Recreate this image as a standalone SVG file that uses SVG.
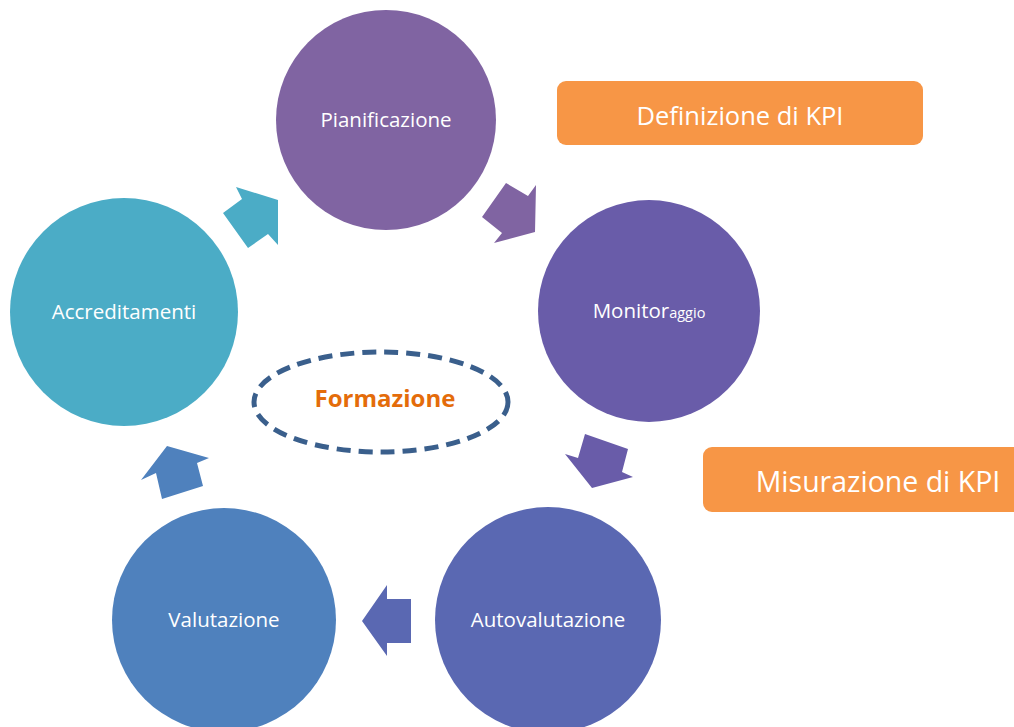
<svg xmlns="http://www.w3.org/2000/svg" width="1014" height="727" viewBox="0 0 1014 727">
<style>
.lbl{font-family:"Open Sans","Liberation Sans",sans-serif;font-size:20.5px;fill:#fff;text-anchor:middle}
.box{fill:#F79646}
.boxt{font-family:"Open Sans","Liberation Sans",sans-serif;font-size:25.5px;fill:#fff;text-anchor:middle}
.big{font-size:28.5px}
.small{font-size:14.5px}
</style>
<rect width="1014" height="727" fill="#fff"/>
<g id="node-pianificazione"><circle cx="386" cy="120" r="110" fill="#8064A2"/><text class="lbl" x="386" y="127">Pianificazione</text></g>
<g id="node-monitoraggio"><circle cx="649" cy="311" r="111" fill="#695CA9"/><text class="lbl" x="649" y="318">Monitor<tspan class="small">aggio</tspan></text></g>
<g id="node-autovalutazione"><circle cx="548" cy="620" r="113" fill="#5A68B2"/><text class="lbl" x="548" y="627">Autovalutazione</text></g>
<g id="node-valutazione"><circle cx="224" cy="620" r="112" fill="#4F81BD"/><text class="lbl" x="224" y="627">Valutazione</text></g>
<g id="node-accreditamenti"><circle cx="124" cy="312" r="114" fill="#4BACC6"/><text class="lbl" x="124" y="319">Accreditamenti</text></g>
<g id="connectors">
<polygon points="506,183 528,196 536,185 535,232 494,243 502,233 482,217" fill="#8064A2"/>
<polygon points="585,434 628,449 622,472 633,477 592,488 565,454 578,458" fill="#695CA9"/>
<polygon points="387,585 387,599 411,599 411,643 387,643 387,656 362,621" fill="#5A68B2"/>
<polygon points="167,446 209,458 197,463 203,486 162,499 156,473 141,480" fill="#4F81BD"/>
<polygon points="236,187 278,200 278,245 268,234 248,248 223,213 242,199" fill="#4BACC6"/>
</g>
<g id="node-definizione"><rect class="box" x="557" y="81" width="366" height="64" rx="9"/><text class="boxt" x="740" y="125">Definizione di KPI</text></g>
<g id="node-misurazione"><rect class="box" x="703" y="447" width="330" height="65" rx="9"/><text class="boxt big" x="878" y="492">Misurazione di KPI</text></g>
<g id="node-formazione"><ellipse cx="381" cy="402" rx="127" ry="50" fill="none" stroke="#3A5F8C" stroke-width="5" stroke-dasharray="14 8"/><text x="385" y="407" font-family="Open Sans,Liberation Sans,sans-serif" font-weight="bold" font-size="24px" fill="#E46C0A" text-anchor="middle">Formazione</text></g>
</svg>
